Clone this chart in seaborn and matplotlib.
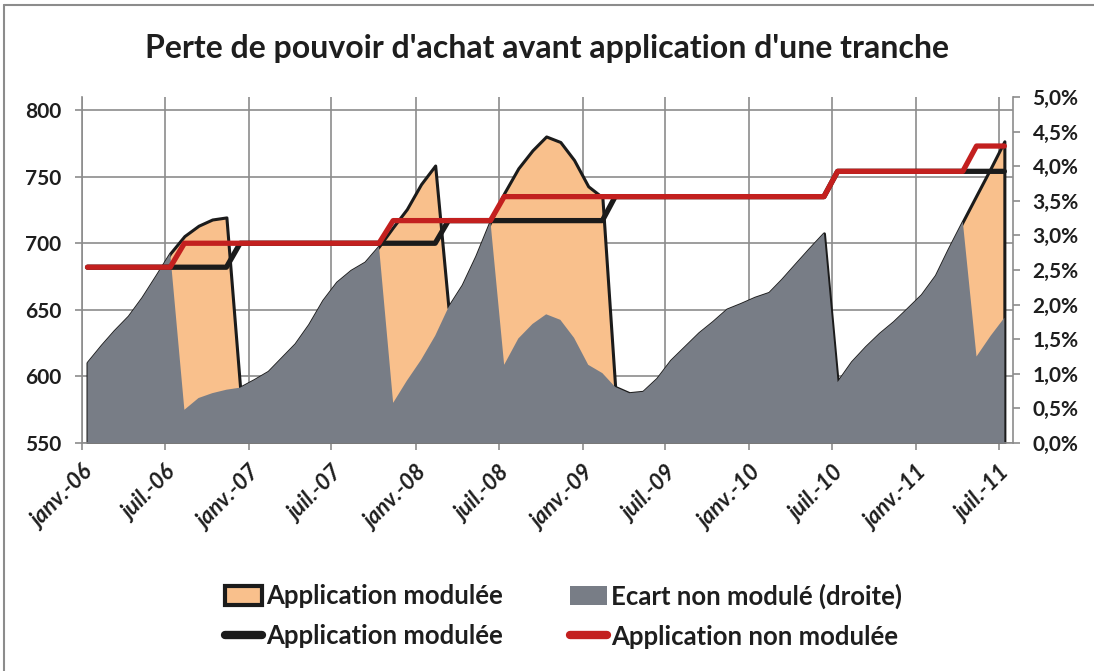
from __future__ import annotations

import matplotlib

matplotlib.use("Agg")  # headless-safe

import matplotlib.dates as mdates
import matplotlib.pyplot as plt
import numpy as np
import pandas as pd
import seaborn as sns
from matplotlib.lines import Line2D
from matplotlib.patches import Patch
from matplotlib.ticker import FuncFormatter

# --- Donnees (mensuel, janv. 2006 -> juil. 2011) ---
mois = pd.date_range("2006-01-01", periods=67, freq="MS")

# Ecart non module, en % (axe de droite) -> zone grise
ecart_non_module = [
    1.16, 1.41, 1.62, 1.83, 2.10, 2.42, 2.74,
    0.48, 0.65, 0.72, 0.77, 0.80, 0.91, 1.03, 1.22, 1.43, 1.71, 2.06, 2.32, 2.49, 2.61, 2.84,
    0.58, 0.90, 1.20, 1.55, 1.96, 2.28, 2.70, 3.20,
    1.13, 1.51, 1.72, 1.86, 1.78, 1.52, 1.13, 1.01, 0.81, 0.72, 0.74, 0.93,
    1.19, 1.39, 1.59, 1.75, 1.93, 2.01, 2.10, 2.17, 2.36, 2.59, 2.81, 3.03,
    0.88, 1.17, 1.39, 1.58, 1.75, 1.94, 2.14, 2.42, 2.80, 3.20,
    1.25, 1.55, 1.81,
]

# Ecart avec application modulee, en % (axe de droite) -> zone orange
ecart_module = [
    1.16, 1.41, 1.62, 1.83, 2.10, 2.42, 2.74,
    2.99, 3.14, 3.23, 3.26,
    0.80, 0.91, 1.03, 1.22, 1.43, 1.71, 2.06, 2.32, 2.49, 2.61, 2.84,
    3.12, 3.38, 3.74, 4.01,
    1.96, 2.28, 2.70, 3.20,
    3.61, 3.97, 4.23, 4.43, 4.35, 4.09, 3.71, 3.55,
    0.81, 0.72, 0.74, 0.93, 1.19, 1.39, 1.59, 1.75, 1.93, 2.01,
    2.10, 2.17, 2.36, 2.59, 2.81, 3.03,
    0.88, 1.17, 1.39, 1.58, 1.75, 1.94, 2.14, 2.42, 2.80, 3.20,
    3.58, 3.97, 4.36,
]

# Indices (axe de gauche)
application_modulee = [
    682, 682, 682, 682, 682, 682, 682, 682, 682, 682, 682,
    700, 700, 700, 700, 700, 700, 700, 700, 700, 700, 700, 700, 700, 700, 700,
    717, 717, 717, 717, 717, 717, 717, 717, 717, 717, 717, 717,
    735, 735, 735, 735, 735, 735, 735, 735, 735, 735, 735, 735, 735, 735, 735, 735,
    754, 754, 754, 754, 754, 754, 754, 754, 754, 754, 754, 754, 754,
]
application_non_modulee = [
    682, 682, 682, 682, 682, 682, 682,
    700, 700, 700, 700, 700, 700, 700, 700, 700, 700, 700, 700, 700, 700, 700,
    717, 717, 717, 717, 717, 717, 717, 717,
    735, 735, 735, 735, 735, 735, 735, 735, 735, 735, 735, 735,
    735, 735, 735, 735, 735, 735, 735, 735, 735, 735, 735, 735,
    754, 754, 754, 754, 754, 754, 754, 754, 754, 754,
    773, 773, 773,
]

titre = "Perte de pouvoir d'achat avant application d'une tranche"
libelles = [
    "Application modulée",
    "Ecart non modulé (droite)",
    "Application modulée",
    "Application non modulée",
]
mois_fr = {1: "janv.", 7: "juil."}

ORANGE = "#f9c08c"
GRIS = "#787d86"
ROUGE = "#c3201f"
NOIR = "#1b1b1b"
GRILLE = "#8c8c8c"
TEXTE = "#1e1e1e"

# echelles : gauche 550..~810, droite 0..5 %
Y_MIN, Y_MAX = 550, 809.8
PCT_MAX = 5.0
K = (Y_MAX - Y_MIN) / PCT_MAX


def pct_vers_gauche(p):
    return Y_MIN + np.asarray(p, dtype=float) * K


def gauche_vers_pct(v):
    return (np.asarray(v, dtype=float) - Y_MIN) / K


def main() -> None:
    sns.set_theme(style="white")
    plt.rcParams["font.family"] = ["Lato", "DejaVu Sans"]

    fig = plt.figure(figsize=(10.94, 6.71), dpi=100)
    ax = fig.add_axes([0.075, 0.3398, 0.851, 0.5156])

    # points au milieu du mois (comme dans Excel)
    x = mois + pd.Timedelta(days=12)

    ax.fill_between(x, Y_MIN, pct_vers_gauche(ecart_module), facecolor=ORANGE,
                    edgecolor=NOIR, linewidth=2.2, zorder=2)
    ax.fill_between(x, Y_MIN, pct_vers_gauche(ecart_non_module), facecolor=GRIS,
                    edgecolor="none", linewidth=0, zorder=3)
    sns.lineplot(x=x, y=application_modulee, ax=ax, color=NOIR, linewidth=3.8, zorder=4)
    sns.lineplot(x=x, y=application_non_modulee, ax=ax, color=ROUGE, linewidth=3.8, zorder=5)

    ax.set_xlim(mois[0], pd.Timestamp("2011-08-01"))
    ax.set_ylim(Y_MIN, Y_MAX)
    ax.set_xlabel("")
    ax.set_ylabel("")

    ax.set_yticks([550, 600, 650, 700, 750, 800])
    ax.xaxis.set_major_locator(mdates.MonthLocator(bymonth=[1, 7]))
    ax.xaxis.set_major_formatter(FuncFormatter(
        lambda v, _: f"{mois_fr[mdates.num2date(v).month]}-{mdates.num2date(v):%y}"))

    ax.grid(True, color=GRILLE, linewidth=1.2)
    ax.set_axisbelow(True)
    for cote in ["top", "right"]:
        ax.spines[cote].set_visible(False)
    for cote in ["left", "bottom"]:
        ax.spines[cote].set_color(GRILLE)
        ax.spines[cote].set_linewidth(1.2)

    ax.tick_params(axis="y", left=True, length=5, width=1.2, color=GRILLE,
                   pad=10, labelsize=15, labelcolor=TEXTE)
    ax.tick_params(axis="x", bottom=True, length=5, width=1.2, color=GRILLE,
                   pad=9, labelsize=16, labelcolor=TEXTE)
    plt.setp(ax.get_xticklabels(), rotation=45, ha="right", rotation_mode="anchor",
             style="italic", weight="bold")
    plt.setp(ax.get_yticklabels(), weight="bold")

    sec = ax.secondary_yaxis("right", functions=(gauche_vers_pct, pct_vers_gauche))
    sec.set_yticks(np.arange(0, 5.01, 0.5))
    sec.yaxis.set_major_formatter(FuncFormatter(lambda v, _: f"{v:.1f}".replace(".", ",") + "%"))
    sec.spines["right"].set_color(GRILLE)
    sec.spines["right"].set_linewidth(1.2)
    sec.tick_params(axis="y", right=True, length=5, width=1.2, color=GRILLE,
                    pad=9, labelsize=15, labelcolor=TEXTE)
    plt.setp(sec.get_yticklabels(), weight="bold")

    fig.text(0.5, 0.928, titre, ha="center", va="center", fontsize=23,
             weight="bold", color=TEXTE)

    poignees = [
        Patch(facecolor=ORANGE, edgecolor=NOIR, linewidth=3),
        Line2D([], [], color=NOIR, linewidth=6, solid_capstyle="round"),
        Patch(facecolor=GRIS, edgecolor="none"),
        Line2D([], [], color=ROUGE, linewidth=6, solid_capstyle="round"),
    ]
    textes = [libelles[0], libelles[2], libelles[1], libelles[3]]
    fig.legend(poignees, textes, loc="center", bbox_to_anchor=(0.515, 0.082), ncol=2,
               frameon=False, handlelength=1.45, handleheight=0.8,
               handletextpad=0.15, columnspacing=2.6, labelspacing=0.62,
               labelcolor=TEXTE, prop={"weight": "bold", "size": 18.5})

    # cadre du graphique
    fig.add_artist(Line2D([0.004, 1.0], [0.993, 0.993], color=GRILLE, linewidth=1.5,
                          transform=fig.transFigure))
    fig.add_artist(Line2D([0.004, 0.004], [0.0, 0.993], color=GRILLE, linewidth=1.5,
                          transform=fig.transFigure))

    fig.savefig("out.png", dpi=100)
    plt.close(fig)


if __name__ == "__main__":
    main()
